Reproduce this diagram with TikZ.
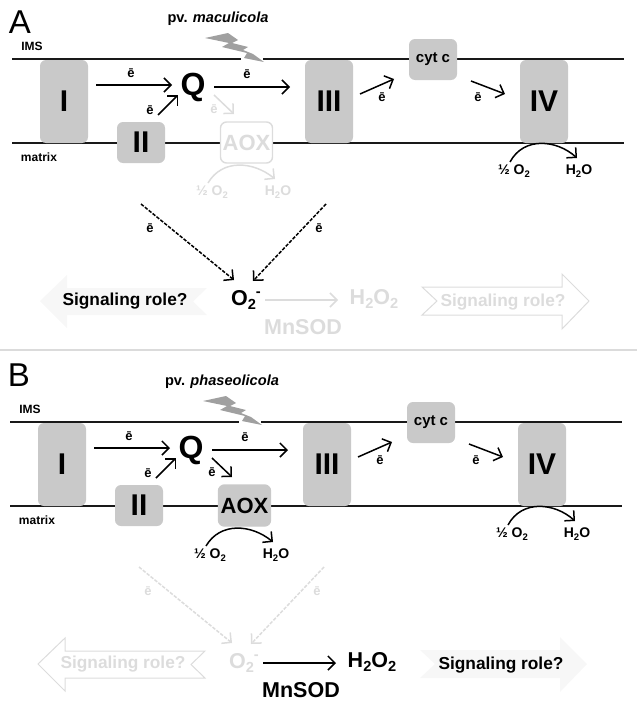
\documentclass[tikz,border=0pt]{standalone}
\usepackage{fontspec}
\setmainfont{Liberation Sans}
\usetikzlibrary{arrows.meta}
\newcommand{\fsz}[1]{\fontsize{#1}{#1}\selectfont}
\newcommand{\subs}[1]{\raisebox{-0.22em}{\scalebox{0.68}{#1}}}
\newcommand{\sups}[1]{\raisebox{0.4em}{\scalebox{0.68}{#1}}}
\definecolor{boxgray}{HTML}{C9C9C9}
\definecolor{fadeline}{HTML}{DCDCDC}
\definecolor{fadefill}{HTML}{F7F7F7}
\definecolor{boltgray}{HTML}{A0A0A0}
\tikzset{
  cplx/.style={rounded corners=6pt,fill=boxgray,inner sep=0pt,minimum width=48pt,minimum height=83pt,font=\bfseries\fsz{30}},
  smallcplx/.style={rounded corners=6pt,fill=boxgray,inner sep=0pt,minimum width=48pt,minimum height=41pt,font=\bfseries\fsz{30}},
  membrane/.style={line width=1.6pt,black!90},
  arr/.style={line width=1.5pt,-{Straight Barb[length=7pt,width=14pt,line width=1.5pt]}},
  elec/.style={font=\bfseries\fsz{13},inner sep=0pt},
  lab/.style={font=\bfseries\fsz{14},inner sep=0pt},
  sig/.style={font=\bfseries\fsz{17.3},inner sep=0pt},
  big/.style={font=\bfseries\fsz{21.5},inner sep=0pt},
}
% one panel, coloured by the colours aox*, dash*, o2c, h2c, and the styles leftsig/rightsig
\newcommand{\panel}[2]{%
  \draw[membrane] (12,59) -- (241,59) (263,59) -- (624,59);
  \draw[membrane] (12,143) -- (624,143);
  \fill[boltgray] (205,38) -- (228,33) -- (238,40) -- (232,43) -- (248,47) -- (243,50) -- (253,54) -- (264,62) -- (244,58) -- (247,53) -- (222,47) -- (229,43) -- cycle;
  \node[font=\bfseries\fsz{14.6},inner sep=0pt] (pv) at (#2,19) {pv. \textit{#1}};
  \node[lab,font=\bfseries\fsz{12}] (ims) at (32,46) {IMS};
  \node[lab,font=\bfseries\fsz{12}] (matrix) at (39,157) {matrix};
  \node[cplx] (I) at (64,101.5) {I};
  \node[cplx] (III) at (329,101.5) {III};
  \node[cplx] (IV) at (544,101.5) {IV};
  \node[smallcplx] (II) at (141,142.5) {II};
  \node[smallcplx,font=\bfseries\fsz{15}] (cyt) at (433,59.5) {cyt c};
  \node[smallcplx,minimum width=52pt,draw=aoxline,line width=1.4pt,fill=aoxfill,text=aoxc,font=\bfseries\fsz{22}] (AOX) at (246.5,142.5) {AOX};
  \node[inner sep=0pt,font=\bfseries\fsz{32}] (Q) at (193,87) {Q};
  \draw[arr] ([shift={(32,-16.5)}]I.center) -- ([shift={(-21,-2)}]Q.center);
  \draw[arr] ([shift={(17,-27.5)}]II.center) -- ([shift={(-15,8)}]Q.center);
  \draw[arr] ([shift={(21,0)}]Q.center) -- ([shift={(-39,-14.5)}]III.center);
  \draw[arr,aoxc] ([shift={(21,8)}]Q.center) -- ([shift={(-12.5,-28.5)}]AOX.center);
  \draw[arr] ([shift={(31,-7.5)}]III.center) -- ([shift={(-39,19.5)}]cyt.center);
  \draw[arr] ([shift={(38,21.5)}]cyt.center) -- ([shift={(-39,-7.5)}]IV.center);
  \node[elec] (e1) at (131,73) {ē};
  \node[elec] (e2) at (150,110) {ē};
  \node[elec] (e3) at (247,74) {ē};
  \node[elec,text=aoxc] (e4) at (214,109) {ē};
  \node[elec] (e5) at (382,97) {ē};
  \node[elec] (e6) at (478,97) {ē};
  \node[lab,text=aoxc] (aoxo) at (212,192) {½ O\subs{2}};
  \node[lab,text=aoxc] (aoxw) at (278,192) {H\subs{2}O};
  \draw[arr,aoxc] ([shift={(-4,-9)}]aoxo.center) .. controls +(14,-24) and +(-22,-18) .. ([shift={(-3,-13)}]aoxw.center);
  \node[lab] (ivo) at (514,171) {½ O\subs{2}};
  \node[lab] (ivw) at (579,171) {H\subs{2}O};
  \draw[arr] ([shift={(-4,-9)}]ivo.center) .. controls +(14,-26) and +(-20,-18) .. ([shift={(-2,-13)}]ivw.center);
  \node[big,text=o2c] (O) at (246,300) {O\subs{2}\sups{-}};
  \node[big,text=h2c] (H) at (374,299) {H\subs{2}O\subs{2}};
  \node[big,text=h2c] (M) at (303,327) {MnSOD};
  \coordinate (d1) at (141,204);
  \coordinate (d2) at (326,204);
  \draw[arr,dashed,dash pattern=on 3.5pt off 1.5pt,dashc] (d1) -- ([shift={(-12,-20)}]O.center);
  \draw[arr,dashed,dash pattern=on 3.5pt off 1.5pt,dashc] (d2) -- ([shift={(7,-19)}]O.center);
  \node[elec,text=dashc] (e7) at (150,228) {ē};
  \node[elec,text=dashc] (e8) at (319,228) {ē};
  \draw[arr,h2c] ([shift={(19,0)}]O.center) -- ([shift={(-36,1)}]H.center);
  \path[leftsig] (40,301) -- (67,275) -- (67,288) -- (207,288) -- (193,301.5) -- (207,315) -- (67,315) -- (67,328) -- cycle;
  \path[rightsig] (422,287) -- (562,287) -- (562,274) -- (589,301) -- (562,329) -- (562,315) -- (422,315) -- (437,301) -- cycle;
  \node[sig,text=leftt] (sl) at (125,301) {Signaling role?};
  \node[sig,text=rightt] (sr) at (503,302) {Signaling role?};
}
\begin{document}
\begin{tikzpicture}[x=1pt,y=-1pt]
\useasboundingbox (0,0) rectangle (637,712);
\node[inner sep=0pt,font=\fsz{33}] (A) at (20,22) {A};
\node[inner sep=0pt,font=\fsz{33}] (B) at (19,375) {B};
\draw[line width=1.3pt,black!14] (0,350) -- (637,350);
% panel A
\begin{scope}
  \colorlet{aoxc}{fadeline}\colorlet{aoxline}{fadeline}\colorlet{aoxfill}{white}
  \colorlet{dashc}{black}\colorlet{o2c}{black}\colorlet{h2c}{fadeline}
  \colorlet{leftt}{black}\colorlet{rightt}{fadeline}
  \tikzset{leftsig/.style={fill=fadefill},rightsig/.style={draw=fadeline,line width=1pt}}
  \panel{maculicola}{218}
\end{scope}
% panel B
\begin{scope}[shift={(-2,363)},name prefix=b-]
  \colorlet{aoxc}{black}\colorlet{aoxline}{boxgray}\colorlet{aoxfill}{boxgray}
  \colorlet{dashc}{fadeline}\colorlet{o2c}{fadeline}\colorlet{h2c}{black}
  \colorlet{leftt}{fadeline}\colorlet{rightt}{black}
  \tikzset{leftsig/.style={draw=fadeline,line width=1pt},rightsig/.style={fill=fadefill}}
  \panel{phaseolicola}{224}
\end{scope}
\end{tikzpicture}
\end{document}
